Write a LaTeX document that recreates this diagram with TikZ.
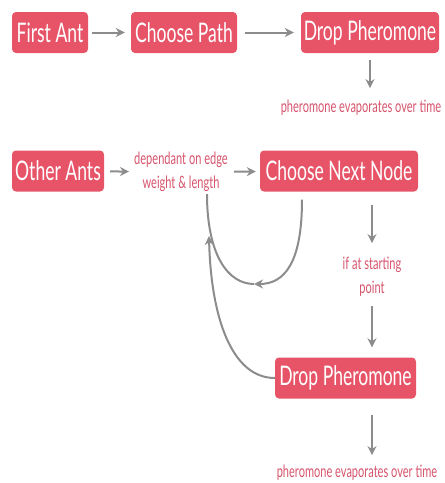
\documentclass[tikz,border=0pt]{standalone}
\usepackage{fontspec}
\setmainfont[FakeStretch=0.65]{Lato}
\usepackage{tikz}
\usetikzlibrary{arrows.meta, positioning, calc}
\definecolor{antred}{RGB}{231, 84, 104}
\definecolor{notered}{RGB}{214, 84, 108}
\definecolor{linegray}{RGB}{140, 140, 140}
\tikzstyle{stage} = [rectangle, rounded corners=4pt, minimum height=41pt, inner sep=0pt, text centered, fill=antred, text=white, font=\fontsize{27}{30}\selectfont]
\tikzstyle{note} = [align=center, inner sep=2pt, text=notered, font=\fontsize{17}{24}\selectfont]
\tikzstyle{line} = [line width=2pt, draw=linegray]
\tikzstyle{arrow} = [line, ->, >={Stealth[length=9pt, width=9pt]}]

\begin{document}
\begin{tikzpicture}[x=1pt, y=-1pt]
    \useasboundingbox (0,0) rectangle (445,483);

    % First ant
    \node[stage, minimum width=76pt] (first) at (50,32.5) {First Ant};
    \node[stage, minimum width=106pt] (path) at (184,32.5) {Choose Path};
    \node[stage, minimum width=138pt] (drop1) at (370,32.5) {Drop Pheromone};
    \node[note] (evap1) at (361,108) {pheromone evaporates over time};
    \draw[arrow, shorten <=4pt, shorten >=6pt] (first) -- (path);
    \draw[arrow, shorten <=8pt, shorten >=7pt] (path) -- (drop1);
    \draw[arrow, shorten <=7pt, shorten >=10pt] (drop1.south) -- (drop1.south |- evap1.north);

    % Other ants
    \node[stage, minimum width=92pt] (others) at (58,171) {Other Ants};
    \node[note] (weight) at (181,172) {dependant on edge\\weight \& length};
    \node[stage, minimum width=158pt] (next) at (339,171) {Choose Next Node};
    \draw[arrow, shorten <=6pt, shorten >=3pt] (others) -- (weight);
    \draw[arrow, shorten <=4pt, shorten >=4pt] (weight) -- (next);

    % Loop back to the edge choice
    \coordinate (turn) at (254,284);
    \draw[arrow, shorten <=8pt] ([xshift=-37pt]next.south) .. controls (302,262) and (285,284) .. (turn);
    \draw[line] (turn) .. controls (228,284) and (207,255) .. ([xshift=26pt]weight.south);

    % Back at the start
    \node[note] (start) at (372,277) {if at starting\\point};
    \node[stage, minimum width=141pt] (drop2) at (345.5,378) {Drop Pheromone};
    \node[note] (evap2) at (357,473) {pheromone evaporates over time};
    \coordinate (back) at (209,236);
    \draw[arrow, shorten <=13pt, shorten >=12pt] (start.north |- next.south) -- (start.north);
    \draw[arrow, shorten <=7pt, shorten >=10pt] (start.south) -- (start.south |- drop2.north);
    \draw[arrow, shorten <=16pt, shorten >=8pt] (start.south |- drop2.south) -- (start.south |- evap2.north);
    \draw[arrow] (drop2.west) .. controls (232,378) and (211,318) .. (back);
\end{tikzpicture}
\end{document}
